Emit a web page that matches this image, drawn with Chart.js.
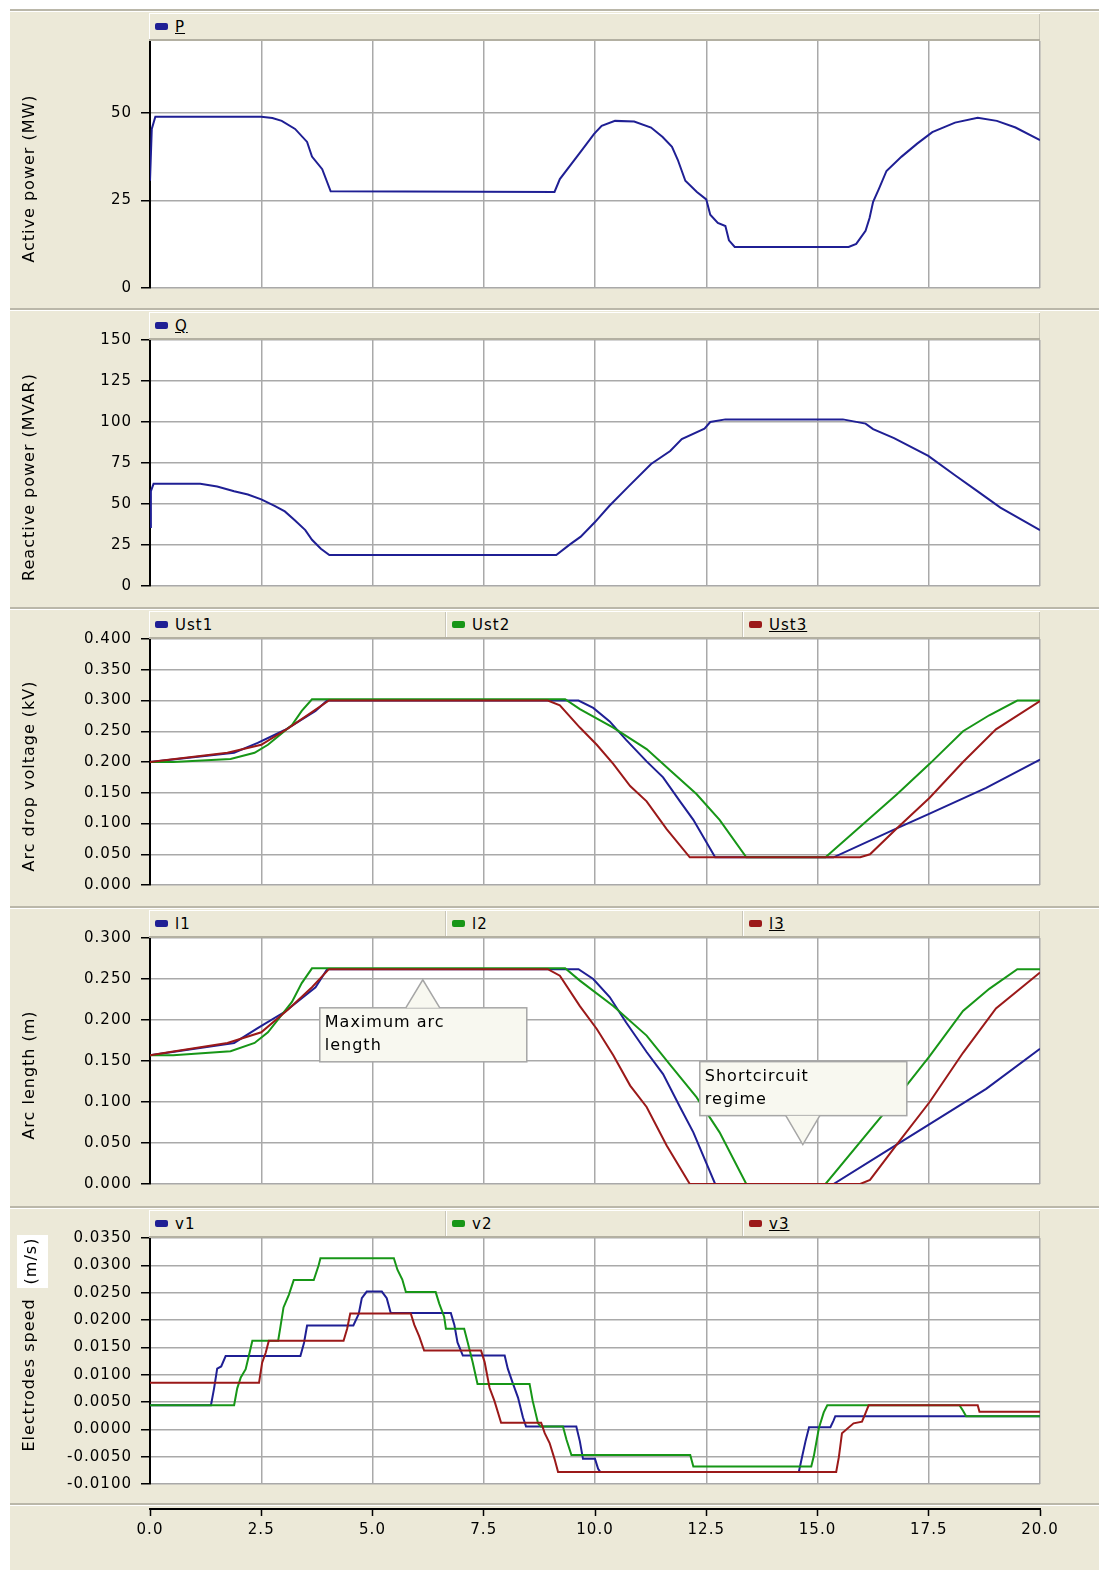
<!DOCTYPE html>
<html>
<head>
<meta charset="utf-8">
<title>Electrode regulation</title>
<script src="https://cdn.jsdelivr.net/npm/chart.js@4.4.1/dist/chart.umd.min.js"></script>
<style>
  body { margin: 0; background: #fff; font-family: "DejaVu Sans", sans-serif; }
  #page { position: relative; width: 1099px; height: 1570px; overflow: hidden; }
  #bg { position: absolute; left: 10px; top: 9px; right: 0; bottom: 0; background: #ECE9D8; }
  canvas { position: absolute; left: 10px; }
  .sep { position: absolute; left: 10px; right: 0; height: 2px; background: #BAB7A9; border-bottom: 1px solid #fff; }
  .legend { position: absolute; left: 149px; width: 891px; height: 25px; display: flex;
            border-top: 1px solid #fff; border-bottom: 2px solid #B3B0A2; background: #ECE9D8; z-index: 2; }
  .legend .item { flex: 1; display: flex; align-items: center; font-size: 15px; letter-spacing: 1px; color: #000;
                  border-left: 1px solid #fff; border-right: 1px solid #C9C6B8; }
  .sw { width: 13px; height: 7px; border-radius: 2px; margin: 0 7px 0 5px; }
  .u { text-decoration: underline; }
</style>
</head>
<body>
<div id="page"><div id="bg"></div></div>
<script>
const BLUE = '#1f1f94', GREEN = '#179617', RED = '#9b1919';
const GRID = '#A9A9A9';
const FONT = '"DejaVu Sans", sans-serif';

const xTicks = [0, 2.5, 5, 7.5, 10, 12.5, 15, 17.5, 20];

// Active power P (MW)
const pTicks = [0, 25, 50];
const pTime = [0, 0.04, 0.12, 2.5, 2.75, 2.96, 3.26, 3.53, 3.64, 3.87, 4.06, 9.09, 9.21, 9.68, 9.98, 10.15, 10.45, 10.88, 11.26, 11.52, 11.73, 11.86, 12.03, 12.29, 12.5, 12.59, 12.76, 12.93, 13.01, 13.14, 15.7, 15.87, 16.08, 16.17, 16.25, 16.38, 16.55, 16.89, 17.24, 17.58, 18.09, 18.6, 19.03, 19.45, 20];
const pValue = [30.6, 45.4, 48.9, 48.9, 48.5, 47.7, 45.4, 41.7, 37.5, 33.9, 27.6, 27.4, 31.1, 38.9, 44.0, 46.3, 47.7, 47.5, 45.8, 43.1, 40.3, 36.6, 30.6, 27.4, 25.3, 20.9, 18.6, 17.7, 13.6, 11.7, 11.7, 12.6, 16.3, 20.0, 24.6, 28.3, 33.4, 37.5, 41.2, 44.5, 47.2, 48.6, 47.7, 45.8, 42.2];

// Reactive power Q (MVAR)
const qTicks = [0, 25, 50, 75, 100, 125, 150];
const qTime = [0, 0.02, 0.08, 1.13, 1.51, 1.89, 2.2, 2.5, 2.8, 3.03, 3.26, 3.49, 3.64, 3.84, 4.03, 9.13, 9.43, 9.68, 10.0, 10.32, 10.75, 11.26, 11.69, 11.95, 12.46, 12.59, 12.93, 15.57, 16.08, 16.25, 16.72, 17.49, 18.09, 18.6, 19.11, 20];
const qValue = [36, 57.8, 62.3, 62.3, 60.7, 57.8, 55.8, 52.8, 48.9, 45.5, 40, 34.1, 28.2, 22.7, 18.9, 18.9, 25.2, 30.1, 39, 48.8, 60.6, 74.4, 82.3, 89.6, 96, 100, 101.6, 101.6, 99, 95.7, 90.2, 79.3, 67.5, 57.7, 47.8, 34];

// Arc drop voltage (kV)
const uTicks = [0, 0.05, 0.1, 0.15, 0.2, 0.25, 0.3, 0.35, 0.4];
const ust1Time = [0, 1.89, 2.42, 3.03, 3.72, 3.98, 9.63, 9.96, 10.33, 10.7, 11.16, 11.53, 11.91, 12.21, 12.7, 15.36, 16.78, 17.52, 18.79, 20];
const ust1Value = [0.2, 0.215, 0.231, 0.252, 0.283, 0.3, 0.3, 0.288, 0.266, 0.236, 0.201, 0.175, 0.136, 0.106, 0.045, 0.045, 0.092, 0.116, 0.158, 0.204];
const ust2Time = [0, 0.52, 1.81, 2.35, 2.65, 3.19, 3.41, 3.64, 9.33, 9.66, 10.41, 11.16, 11.68, 12.28, 12.8, 13.4, 15.18, 16.78, 17.52, 18.27, 18.86, 19.49, 20];
const ust2Value = [0.2, 0.2, 0.205, 0.215, 0.228, 0.26, 0.283, 0.302, 0.302, 0.286, 0.256, 0.221, 0.187, 0.148, 0.106, 0.045, 0.045, 0.147, 0.197, 0.25, 0.276, 0.3, 0.3];
const ust3Time = [0, 0.56, 1.74, 2.5, 3.11, 3.64, 4.02, 8.94, 9.21, 9.66, 10.04, 10.41, 10.79, 11.16, 11.61, 12.13, 15.96, 16.18, 16.78, 17.52, 18.27, 19.01, 20];
const ust3Value = [0.2, 0.205, 0.215, 0.228, 0.255, 0.281, 0.3, 0.3, 0.292, 0.256, 0.228, 0.197, 0.161, 0.136, 0.091, 0.045, 0.045, 0.05, 0.092, 0.142, 0.2, 0.253, 0.299];

// Arc length (m)
const lTicks = [0, 0.05, 0.1, 0.15, 0.2, 0.25, 0.3];
const l1Time = [0, 1.89, 2.42, 3.03, 3.72, 3.98, 9.63, 9.96, 10.33, 10.7, 11.16, 11.53, 11.91, 12.21, 12.7, 15.36, 16.78, 17.52, 18.79, 20];
const l1Value = [0.157, 0.172, 0.19, 0.21, 0.24, 0.262, 0.262, 0.25, 0.228, 0.197, 0.161, 0.134, 0.094, 0.063, 0, 0, 0.048, 0.073, 0.116, 0.165];
const l2Time = [0, 0.52, 1.81, 2.35, 2.65, 3.19, 3.41, 3.64, 9.33, 9.66, 10.41, 11.16, 11.68, 12.28, 12.8, 13.4, 15.18, 16.78, 17.52, 18.27, 18.86, 19.49, 20];
const l2Value = [0.157, 0.157, 0.162, 0.172, 0.185, 0.222, 0.245, 0.263, 0.263, 0.248, 0.217, 0.181, 0.146, 0.106, 0.063, 0, 0, 0.105, 0.156, 0.211, 0.238, 0.262, 0.262];
const l3Time = [0, 0.56, 1.74, 2.5, 3.11, 3.64, 4.02, 8.94, 9.21, 9.66, 10.04, 10.41, 10.79, 11.16, 11.61, 12.13, 15.96, 16.18, 16.78, 17.52, 18.27, 19.01, 20];
const l3Value = [0.157, 0.162, 0.172, 0.185, 0.213, 0.24, 0.262, 0.262, 0.254, 0.217, 0.189, 0.157, 0.12, 0.094, 0.047, 0, 0, 0.005, 0.048, 0.1, 0.16, 0.214, 0.258];

// Electrodes speed (m/s)
const vTicks = [-0.01, -0.005, 0, 0.005, 0.01, 0.015, 0.02, 0.025, 0.03, 0.035];
const v1Time = [0, 1.37, 1.44, 1.51, 1.6, 1.7, 3.38, 3.46, 3.53, 4.57, 4.69, 4.76, 4.87, 5.21, 5.32, 5.41, 6.76, 6.84, 6.91, 7.03, 7.97, 8.04, 8.15, 8.27, 8.38, 8.45, 9.58, 9.66, 9.73, 10.0, 10.07, 10.12, 14.58, 14.66, 14.73, 14.81, 15.29, 15.36, 15.4, 20];
const v1Value = [0.0044, 0.0044, 0.0075, 0.0111, 0.0115, 0.0134, 0.0134, 0.0158, 0.019, 0.019, 0.0211, 0.024, 0.0252, 0.0252, 0.024, 0.0213, 0.0213, 0.0191, 0.0159, 0.0135, 0.0135, 0.0111, 0.0085, 0.0058, 0.0022, 0.0005, 0.0005, -0.0022, -0.0054, -0.0054, -0.0072, -0.0078, -0.0078, -0.0048, -0.0022, 0.0004, 0.0004, 0.0016, 0.0024, 0.0024];
const v2Time = [0, 1.89, 1.96, 2.04, 2.15, 2.22, 2.3, 2.88, 2.93, 3.0, 3.12, 3.23, 3.68, 3.79, 3.83, 5.48, 5.56, 5.67, 5.75, 6.42, 6.5, 6.61, 6.65, 7.06, 7.14, 7.25, 7.36, 8.53, 8.6, 8.72, 8.78, 9.28, 9.36, 9.47, 12.14, 12.21, 14.86, 14.92, 15.03, 15.14, 15.22, 18.19, 18.27, 18.34, 20];
const v2Value = [0.0044, 0.0044, 0.0075, 0.0095, 0.011, 0.0134, 0.0162, 0.0162, 0.0187, 0.0223, 0.0246, 0.0273, 0.0273, 0.03, 0.0313, 0.0313, 0.0292, 0.0274, 0.0251, 0.0251, 0.023, 0.0206, 0.0184, 0.0184, 0.0159, 0.0123, 0.0083, 0.0083, 0.0052, 0.0011, 0.0005, 0.0005, -0.0019, -0.0047, -0.0047, -0.0068, -0.0068, -0.0048, 0.0002, 0.0031, 0.0044, 0.0044, 0.0034, 0.0024, 0.0024];
const v3Time = [0, 2.45, 2.52, 2.6, 2.67, 4.35, 4.43, 4.5, 5.86, 5.94, 6.05, 6.16, 7.44, 7.52, 7.63, 7.74, 7.89, 8.79, 8.87, 8.98, 9.09, 9.17, 15.42, 15.48, 15.55, 15.81, 16.0, 16.07, 16.15, 18.6, 18.64, 20];
const v3Value = [0.0085, 0.0085, 0.0122, 0.014, 0.0162, 0.0162, 0.0184, 0.0212, 0.0212, 0.0191, 0.017, 0.0144, 0.0144, 0.0123, 0.0076, 0.0052, 0.0012, 0.0012, -0.0007, -0.0025, -0.0054, -0.0078, -0.0078, -0.0051, -0.0007, 0.0011, 0.0014, 0.0028, 0.0044, 0.0044, 0.0032, 0.0032];

// callouts on the arc length panel
const callouts = [
  { lines: ['Maximum arc', 'length'], x: 6.13, y: 0.249, below: true },
  { lines: ['Shortcircuit', 'regime'], x: 14.67, y: 0.048, below: false }
];

const plotTop = [41, 340, 639, 938, 1238];
const plotBottom = [296, 594, 893, 1192, 1492];

const panels = [
  { title: 'Active power (MW)', ticks: pTicks, max: 70.5, digits: 0,
    series: [{ name: 'P', color: BLUE, t: pTime, v: pValue }] },
  { title: 'Reactive power (MVAR)', ticks: qTicks, max: 150, digits: 0,
    series: [{ name: 'Q', color: BLUE, t: qTime, v: qValue }] },
  { title: 'Arc drop voltage (kV)', ticks: uTicks, max: 0.4, digits: 3,
    series: [{ name: 'Ust1', color: BLUE, t: ust1Time, v: ust1Value },
             { name: 'Ust2', color: GREEN, t: ust2Time, v: ust2Value },
             { name: 'Ust3', color: RED, t: ust3Time, v: ust3Value }] },
  { title: 'Arc length (m)', ticks: lTicks, max: 0.3, digits: 3, callouts: callouts,
    series: [{ name: 'l1', color: BLUE, t: l1Time, v: l1Value },
             { name: 'l2', color: GREEN, t: l2Time, v: l2Value },
             { name: 'l3', color: RED, t: l3Time, v: l3Value }] },
  { title: 'Electrodes speed', unit: '(m/s)', ticks: vTicks, max: 0.035, digits: 4,
    series: [{ name: 'v1', color: BLUE, t: v1Time, v: v1Value },
             { name: 'v2', color: GREEN, t: v2Time, v: v2Value },
             { name: 'v3', color: RED, t: v3Time, v: v3Value }] }
];

// wider lettering, like the old Windows UI font
const wideText = {
  id: 'wideText',
  beforeDraw(chart) { chart.ctx.letterSpacing = '1px'; }
};

// white plot background, side title and the callout boxes
const panelDeco = {
  id: 'panelDeco',
  beforeDraw(chart) {
    const { ctx, chartArea: a } = chart;
    ctx.save();
    ctx.fillStyle = '#fff';
    ctx.fillRect(a.left, a.top, a.width, a.height);
    ctx.restore();
  },
  afterDraw(chart, args, opts) {
    const { ctx, chartArea: a, scales } = chart;
    ctx.save();
    ctx.fillStyle = '#000';
    ctx.font = '16px ' + FONT;
    ctx.textAlign = 'center';
    ctx.textBaseline = 'middle';
    ctx.save();
    ctx.translate(20, (a.top + a.bottom) / 2 + 14);
    ctx.rotate(-Math.PI / 2);
    ctx.fillText(opts.title, 0, 0);
    ctx.restore();
    if (opts.unit) {
      ctx.fillStyle = '#fff';
      ctx.fillRect(7, a.top - 3, 31, 53);
      ctx.fillStyle = '#000';
      ctx.translate(22, a.top + 23);
      ctx.rotate(-Math.PI / 2);
      ctx.fillText(opts.unit, 0, 0);
    }
    ctx.restore();

    (opts.callouts || []).forEach(c => {
      const tx = scales.x.getPixelForValue(c.x), ty = scales.y.getPixelForValue(c.y);
      const w = 207, h = 54, left = tx - 103;
      const top = c.below ? ty + 28 : ty - 29 - h;
      const baseY = c.below ? top : top + h;
      ctx.save();
      ctx.fillStyle = '#F8F8F0';
      ctx.strokeStyle = '#A6A6A6';
      ctx.lineWidth = 1.5;
      ctx.fillRect(left, top, w, h);
      ctx.strokeRect(left, top, w, h);
      ctx.beginPath();
      ctx.moveTo(tx - 17, baseY);
      ctx.lineTo(tx, ty);
      ctx.lineTo(tx + 17, baseY);
      ctx.closePath();
      ctx.fill();
      ctx.beginPath();
      ctx.moveTo(tx - 17, baseY);
      ctx.lineTo(tx, ty);
      ctx.lineTo(tx + 17, baseY);
      ctx.stroke();
      ctx.fillStyle = '#000';
      ctx.font = '16px ' + FONT;
      ctx.textBaseline = 'middle';
      c.lines.forEach((s, k) => ctx.fillText(s, left + 5, top + 15 + k * 23));
      ctx.restore();
    });
  }
};

const page = document.getElementById('page');

function addDiv(cls, top) {
  const d = document.createElement('div');
  d.className = cls;
  d.style.top = top + 'px';
  page.appendChild(d);
  return d;
}

function setTicks(list) {
  return scale => { scale.ticks = list.map(value => ({ value })); };
}

panels.forEach((p, i) => {
  addDiv('sep', plotTop[i] - 32);

  const canvas = document.createElement('canvas');
  canvas.width = 1089;
  canvas.height = plotBottom[i] - plotTop[i] + 39;
  canvas.style.top = (plotTop[i] - 29) + 'px';
  page.appendChild(canvas);

  const lg = addDiv('legend', plotTop[i] - 28);
  p.series.forEach((s, k) => {
    const u = k === p.series.length - 1 ? 'u' : '';
    lg.insertAdjacentHTML('beforeend',
      `<div class="item"><span class="sw" style="background:${s.color}"></span><span class="${u}">${s.name}</span></div>`);
  });

  new Chart(canvas, {
    type: 'line',
    data: {
      datasets: p.series.map((s, k) => ({
        label: s.name,
        data: s.t.map((x, j) => ({ x, y: s.v[j] })),
        borderColor: s.color,
        borderWidth: 2,
        pointRadius: 0,
        tension: 0,
        fill: false,
        order: p.series.length - 1 - k
      }))
    },
    options: {
      responsive: false,
      animation: false,
      events: [],
      layout: { padding: { left: 0, right: 59, top: 29, bottom: 10 } },
      plugins: {
        legend: { display: false },
        tooltip: { enabled: false },
        panelDeco: { title: p.title, unit: p.unit, callouts: p.callouts }
      },
      scales: {
        x: {
          type: 'linear', min: 0, max: 20,
          afterBuildTicks: setTicks(xTicks),
          afterFit: s => { s.height = 0; },
          ticks: { display: false },
          grid: { color: GRID, lineWidth: 1.5, drawTicks: false },
          border: { display: false }
        },
        y: {
          type: 'linear', min: p.ticks[0], max: p.max,
          afterBuildTicks: setTicks(p.ticks),
          afterFit: s => { s.width = 140; },
          ticks: { color: '#000', font: { family: FONT, size: 15 }, padding: 9,
                   callback: v => v.toFixed(p.digits) },
          grid: { color: GRID, lineWidth: 1.5, tickColor: '#000', tickLength: 9, tickWidth: 1.5 },
          border: { color: '#000', width: 2 }
        }
      }
    },
    plugins: [wideText, panelDeco]
  });
});

// shared time axis under the last panel
addDiv('sep', 1503);
const axisCanvas = document.createElement('canvas');
axisCanvas.width = 1089;
axisCanvas.height = 70;
axisCanvas.style.top = '1500px';
page.appendChild(axisCanvas);

new Chart(axisCanvas, {
  type: 'scatter',
  data: { datasets: [] },
  options: {
    responsive: false,
    animation: false,
    events: [],
    layout: { padding: { left: 140, right: 59, top: 0, bottom: 0 } },
    plugins: { legend: { display: false }, tooltip: { enabled: false } },
    scales: {
      x: {
        type: 'linear', min: 0, max: 20,
        afterBuildTicks: setTicks(xTicks),
        afterFit: s => { s.height = 61; },
        ticks: { color: '#000', font: { family: FONT, size: 15 }, padding: 5, maxRotation: 0,
                 autoSkip: false, callback: v => v.toFixed(1) },
        grid: { drawOnChartArea: false, tickColor: '#000', tickLength: 7, tickWidth: 1.5 },
        border: { color: '#000', width: 2 }
      },
      y: { display: false }
    }
  },
  plugins: [wideText]
});
</script>
</body>
</html>
